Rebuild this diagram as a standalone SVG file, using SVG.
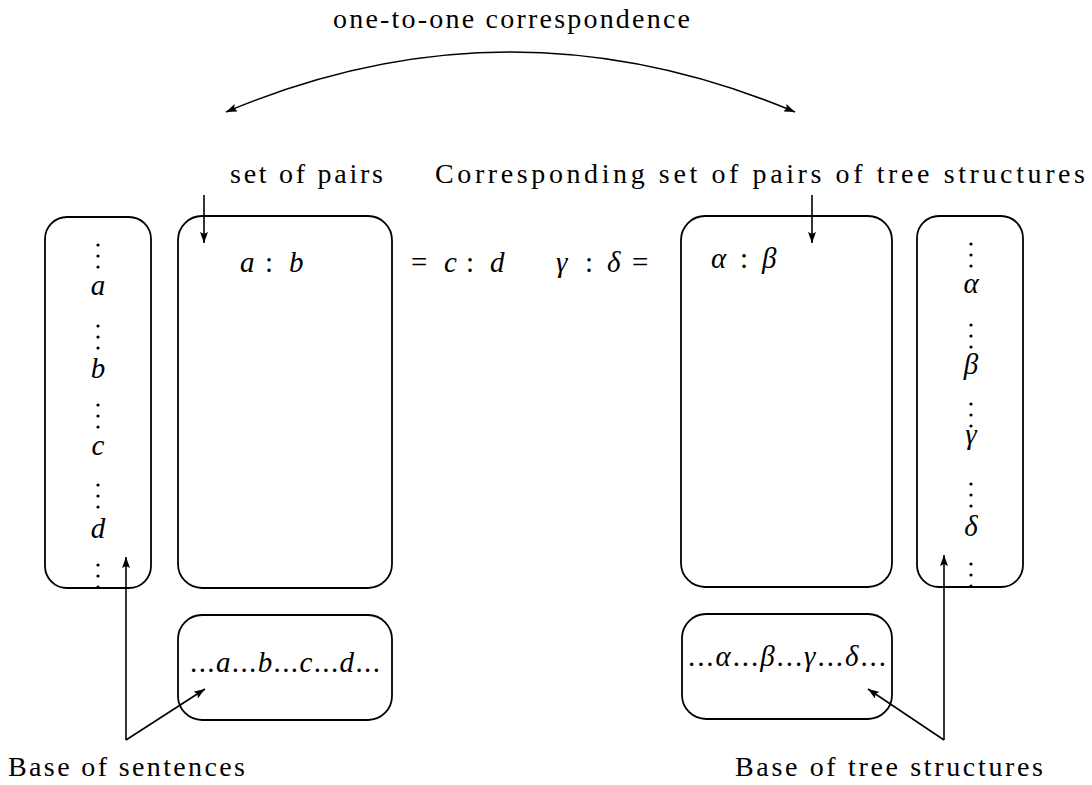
<svg xmlns="http://www.w3.org/2000/svg" width="1092" height="785" viewBox="0 0 1092 785">
<style>
.box{fill:none;stroke:#000;stroke-width:1.8}
.ln{fill:none;stroke:#000;stroke-width:1.6}
.t{font-family:'Liberation Serif','DejaVu Serif',serif;font-size:28px;fill:#000}
.m{font-family:'Liberation Serif','DejaVu Serif',serif;font-size:29px;font-style:italic;fill:#000}
.r{font-family:'Liberation Serif','DejaVu Serif',serif;font-size:29px;fill:#000}
.d{fill:#000}
</style>
<defs>
<marker id="ah" markerUnits="userSpaceOnUse" markerWidth="12" markerHeight="8" refX="11" refY="4" orient="auto-start-reverse">
<path d="M0,0 L11,4 L0,8 L2,4 z" fill="#000"/>
</marker>
<g id="vd"><circle cx="0" cy="0" r="1.6"/><circle cx="0" cy="11" r="1.6"/><circle cx="0" cy="22" r="1.6"/></g>
</defs>
<rect width="1092" height="785" fill="#fff"/>

<g id="title"><text class="t" font-family="Liberation Serif, DejaVu Serif, serif" x="333" y="28" textLength="357" lengthAdjust="spacing">one-to-one correspondence</text></g>
<g id="setpairs-label"><text class="t" x="230" y="183" textLength="153" lengthAdjust="spacing">set of pairs</text></g>
<g id="corr-label"><text class="t" x="435" y="183" textLength="650" lengthAdjust="spacing">Corresponding set of pairs of tree structures</text></g>
<g id="base-sent-label"><text class="t" x="8" y="776" textLength="237" lengthAdjust="spacing">Base of sentences</text></g>
<g id="base-tree-label"><text class="t" x="735" y="776" textLength="308" lengthAdjust="spacing">Base of tree structures</text></g>

<g id="sentences-column">
<rect class="box" x="45" y="217" width="106" height="371" rx="22"/>
<g class="d">
<use href="#vd" x="98" y="245"/>
<use href="#vd" x="98" y="326"/>
<use href="#vd" x="98" y="405"/>
<use href="#vd" x="98" y="485"/>
<use href="#vd" x="98" y="565"/>
</g>
<text class="m" x="98" y="295" text-anchor="middle">a</text>
<text class="m" x="98" y="378" text-anchor="middle">b</text>
<text class="m" x="98" y="455" text-anchor="middle">c</text>
<text class="m" x="98" y="538" text-anchor="middle">d</text>
</g>

<g id="pairs-left">
<rect class="box" x="178" y="216" width="214" height="372" rx="24"/>
<text class="m" x="240" y="272">a</text>
<text class="r" x="265" y="272">:</text>
<text class="m" x="289" y="272">b</text>
</g>

<g id="eq-left">
<text class="r" x="411" y="272">=</text>
<text class="m" x="444" y="272">c</text>
<text class="r" x="466" y="272">:</text>
<text class="m" x="490" y="272">d</text>
</g>

<g id="eq-right">
<text class="m" x="556" y="272">γ</text>
<text class="r" x="585" y="272">:</text>
<text class="m" x="607" y="272">δ</text>
<text class="r" x="632" y="272">=</text>
</g>

<g id="sentence-box">
<rect class="box" x="178" y="615" width="214" height="105" rx="24"/>
<text class="r" x="190" y="672" textLength="190" lengthAdjust="spacing">...<tspan font-style="italic">a</tspan>...<tspan font-style="italic">b</tspan>...<tspan font-style="italic">c</tspan>...<tspan font-style="italic">d</tspan>...</text>
</g>

<g id="pairs-right">
<rect class="box" x="681" y="216" width="211" height="371" rx="24"/>
<text class="m" x="711" y="268">α</text>
<text class="r" x="740" y="268">:</text>
<text class="m" x="762" y="268">β</text>
</g>

<g id="trees-column">
<rect class="box" x="917" y="216" width="106" height="371" rx="22"/>
<g class="d">
<use href="#vd" x="971" y="244"/>
<use href="#vd" x="971" y="325"/>
<use href="#vd" x="971" y="404"/>
<use href="#vd" x="971" y="484"/>
<use href="#vd" x="971" y="564"/>
</g>
<text class="m" x="971" y="293" text-anchor="middle">α</text>
<text class="m" x="971" y="374" text-anchor="middle">β</text>
<text class="m" x="971" y="444" text-anchor="middle">γ</text>
<text class="m" x="971" y="536" text-anchor="middle">δ</text>
</g>

<g id="tree-box">
<rect class="box" x="682" y="614" width="210" height="105" rx="24"/>
<text class="r" x="688" y="666" textLength="198" lengthAdjust="spacing">...<tspan font-style="italic">α</tspan>...<tspan font-style="italic">β</tspan>...<tspan font-style="italic">γ</tspan>...<tspan font-style="italic">δ</tspan>...</text>
</g>

<g id="connectors">
<path class="ln" d="M226,112 Q510,-8 795,112" marker-start="url(#ah)" marker-end="url(#ah)"/>
<path class="ln" d="M204,195 L204,243" marker-end="url(#ah)"/>
<path class="ln" d="M812,195 L812,243" marker-end="url(#ah)"/>
<path class="ln" d="M126,740 L126,557" marker-end="url(#ah)"/>
<path class="ln" d="M126,740 L205,689" marker-end="url(#ah)"/>
<path class="ln" d="M944,740 L944,555" marker-end="url(#ah)"/>
<path class="ln" d="M944,740 L868,689" marker-end="url(#ah)"/>
</g>
</svg>
